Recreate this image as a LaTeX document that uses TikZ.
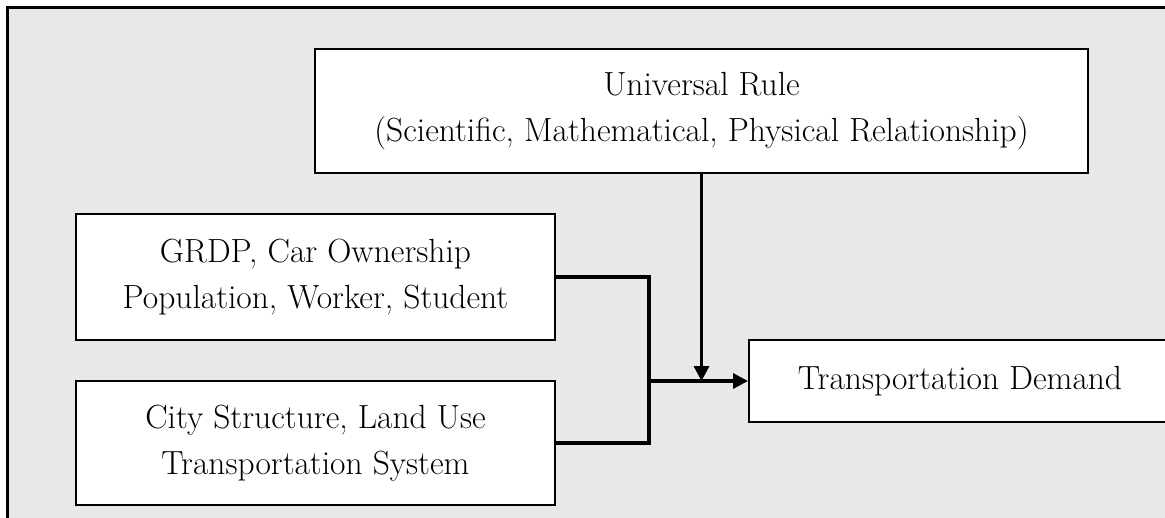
\documentclass[tikz,border=0pt]{standalone}
\usetikzlibrary{arrows.meta}
\definecolor{bggray}{HTML}{E8E8E8}
\begin{document}
\begin{tikzpicture}[x=1pt,y=-1pt,
  box/.style={draw=black,fill=white,line width=2pt,align=center,inner sep=0pt,
    font=\fontsize{33.5}{46}\selectfont},
  conn/.style={line width=3.2pt,line join=miter},
  arr/.style={conn,-{Triangle[length=15pt,width=15pt]}}]
\useasboundingbox (0,0) rectangle (1165,517);
\clip (0,0) rectangle (1165,517);
\fill[bggray] (7.5,7.5) rectangle (1200,560);
\draw[line width=2.5pt] (7.5,560) -- (7.5,7.5) -- (1200,7.5);
\node[box,minimum width=773pt,minimum height=124pt] (uni) at (701.5,111)
  {Universal Rule\\ (Scientific, Mathematical, Physical Relationship)};
\node[box,minimum width=479pt,minimum height=126pt] (grdp) at (315.5,277)
  {GRDP, Car Ownership\\Population, Worker, Student};
\node[box,minimum width=479pt,minimum height=124pt] (city) at (315.5,443)
  {City Structure, Land Use\\Transportation System};
\node[box,minimum width=422pt,minimum height=82pt] (td) at (960,381)
  {Transportation Demand};
\coordinate (j) at (649,381);
\draw[conn] (grdp.east) -| (j);
\draw[conn] (city.east) -| (j);
\draw[arr] (j) -- (td.west);
\draw[arr] (uni.south) -- (uni.south |- td.west);
\end{tikzpicture}
\end{document}
